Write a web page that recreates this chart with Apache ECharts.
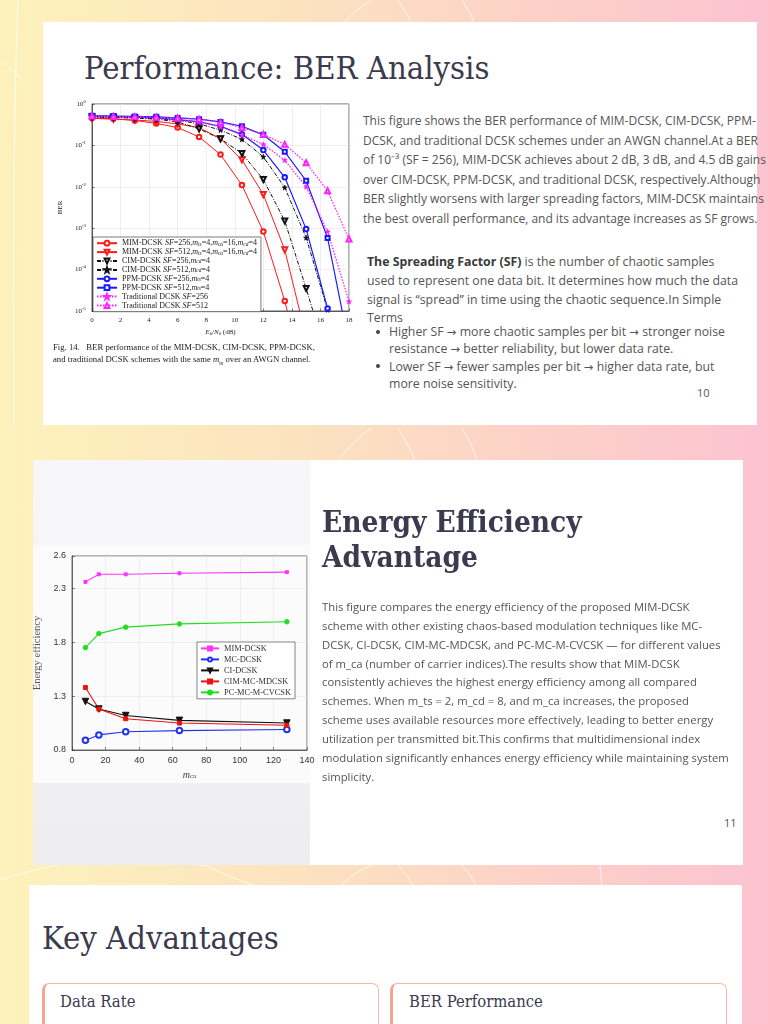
<!DOCTYPE html>
<html><head><meta charset="utf-8">
<script src="https://cdn.jsdelivr.net/npm/echarts@6.0.0/dist/echarts.min.js"></script>
<style>
html,body{margin:0;padding:0;width:768px;height:1024px;overflow:hidden;}
body{position:relative;background:linear-gradient(90deg,#fdf2bb 0%,#fce2c0 40%,#fcd1c8 70%,#fcc3d0 100%);font-family:"Open Sans",sans-serif;}
.card{position:absolute;background:#fff;}
.h{position:absolute;font-family:"DejaVu Serif",serif;font-stretch:condensed;color:#3b3a4e;white-space:nowrap;}
.t{position:absolute;white-space:nowrap;color:#555;}
.l{position:absolute;white-space:nowrap;color:#555;font-size:12.3px;line-height:13px;}
.a{font-family:"DejaVu Sans",sans-serif;font-size:11.5px;}
.dot{position:absolute;width:4px;height:4px;border-radius:50%;background:#444;}
.pn{position:absolute;font-size:11px;color:#555;}
.sub{position:absolute;background:#fff;border:1px solid #f1b9aa;border-left:3px solid #f6a58d;border-radius:7px;height:90px;}
svg.bg{position:absolute;left:0;top:0;}
</style></head>
<body>
<svg class="bg" width="768" height="1024" fill="none" stroke="rgba(255,255,255,0.75)" stroke-width="1">
  <path d="M338,32 Q352,10 372,0"/><path d="M398,0 Q408,14 416,32"/><path d="M462,0 Q472,14 478,32"/>
  <path d="M0,60 Q12,70 28,84"/><path d="M18,0 Q12,150 14,425"/>
  <path d="M338,462 Q352,440 372,428"/><path d="M398,428 Q408,444 416,462"/><path d="M462,428 Q472,444 478,462"/>
  <path d="M0,880 Q60,860 120,858 Q170,860 205,866"/><path d="M205,865 Q230,878 262,888"/><path d="M600,865 L602,888"/>
  <path d="M338,890 Q352,872 372,865"/><path d="M398,865 Q408,876 416,890"/><path d="M462,865 Q472,876 478,890"/>
</svg>

<!-- Card 1 -->
<div class="card" style="left:43px;top:22px;width:714px;height:403px;"></div>
<div class="h" style="left:84px;top:47px;font-size:32.5px;line-height:42px;">Performance: BER Analysis</div>
<div id="ber" style="position:absolute;left:45px;top:92px;width:312px;height:250px;background:#fff;"></div>
<div class="t" style="left:53px;top:341px;font-family:'Liberation Serif',serif;font-size:8.7px;line-height:12px;color:#222;">Fig. 14.&nbsp;&nbsp;&nbsp;BER performance of the MIM-DCSK, CIM-DCSK, PPM-DCSK,<br>and traditional DCSK schemes with the same <i>m</i><sub style="font-size:6px">ts</sub> over an AWGN channel.</div>
<div class="t" style="left:363px;top:111px;font-size:12px;line-height:19.5px;">This figure shows the BER performance of MIM-DCSK, CIM-DCSK, PPM-<br>DCSK, and traditional DCSK schemes under an AWGN channel.At a BER<br>of 10⁻³ (SF = 256), MIM-DCSK achieves about 2 dB, 3 dB, and 4.5 dB gains<br>over CIM-DCSK, PPM-DCSK, and traditional DCSK, respectively.Although<br>BER slightly worsens with larger spreading factors, MIM-DCSK maintains<br>the best overall performance, and its advantage increases as SF grows.</div>
<div class="l" style="left:367px;top:254.5px;"><b style="color:#3a3a3a">The Spreading Factor (SF)</b> is the number of chaotic samples</div>
<div class="l" style="left:367px;top:273.5px;">used to represent one data bit. It determines how much the data</div>
<div class="l" style="left:367px;top:292.5px;">signal is “spread” in time using the chaotic sequence.In Simple</div>
<div class="l" style="left:367px;top:311px;">Terms</div>
<div class="dot" style="left:376px;top:329.5px;"></div>
<div class="l" style="left:389px;top:325px;">Higher SF <span class="a">→</span> more chaotic samples per bit <span class="a">→</span> stronger noise</div>
<div class="l" style="left:389px;top:342px;">resistance <span class="a">→</span> better reliability, but lower data rate.</div>
<div class="dot" style="left:376px;top:364px;"></div>
<div class="l" style="left:389px;top:359.5px;">Lower SF <span class="a">→</span> fewer samples per bit <span class="a">→</span> higher data rate, but</div>
<div class="l" style="left:389px;top:377px;">more noise sensitivity.</div>
<div class="pn" style="left:697px;top:385px;">10</div>

<!-- Card 2 -->
<div class="card" style="left:33px;top:460px;width:710px;height:405px;"></div>
<div style="position:absolute;left:33px;top:460px;width:277px;height:405px;background:linear-gradient(180deg,#f7f6f9 0%,#f2f1f4 60%,#edecef 100%);"></div>
<div style="position:absolute;left:33px;top:545px;width:277px;height:238px;background:#fbfbfc;"></div>
<div id="ee" style="position:absolute;left:33px;top:545px;width:292px;height:238px;"></div>
<div class="h" style="left:322px;top:504px;font-size:29.5px;line-height:35px;font-weight:bold;">Energy Efficiency<br>Advantage</div>
<div class="t" style="left:322px;top:598px;font-size:11.3px;line-height:18.85px;">This figure compares the energy efficiency of the proposed MIM-DCSK<br>scheme with other existing chaos-based modulation techniques like MC-<br>DCSK, CI-DCSK, CIM-MC-MDCSK, and PC-MC-M-CVCSK — for different values<br>of m_ca (number of carrier indices).The results show that MIM-DCSK<br>consistently achieves the highest energy efficiency among all compared<br>schemes. When m_ts = 2, m_cd = 8, and m_ca increases, the proposed<br>scheme uses available resources more effectively, leading to better energy<br>utilization per transmitted bit.This confirms that multidimensional index<br>modulation significantly enhances energy efficiency while maintaining system<br>simplicity.</div>
<div class="pn" style="left:724px;top:815px;">11</div>

<!-- Card 3 -->
<div class="card" style="left:29px;top:885px;width:713px;height:200px;"></div>
<div class="h" style="left:42px;top:917px;font-size:32.5px;line-height:42px;">Key Advantages</div>
<div class="sub" style="left:42px;top:983px;width:333px;"></div>
<div class="sub" style="left:390px;top:983px;width:333px;"></div>
<div class="h" style="left:60px;top:992px;font-size:16.5px;line-height:20px;">Data Rate</div>
<div class="h" style="left:409px;top:992px;font-size:16.5px;line-height:20px;">BER Performance</div>

<script>
// ---------- Data: BER chart ----------
const ebn0 = [0, 1.5, 3, 4.5, 6, 7.5, 9, 10.5, 12, 13.5, 15, 16.5, 18];
const berNames = ['MIM-DCSK SF=256', 'MIM-DCSK SF=512', 'CIM-DCSK SF=256', 'CIM-DCSK SF=512',
                  'PPM-DCSK SF=256', 'PPM-DCSK SF=512', 'Traditional DCSK SF=256', 'Traditional DCSK SF=512'];
const berMim256 = [0.46, 0.44, 0.40, 0.34, 0.27, 0.16, 0.06, 0.011, 8.3e-4, 1.75e-5, 1.6e-7];
const berMim512 = [0.45, 0.43, 0.41, 0.38, 0.33, 0.27, 0.145, 0.045, 0.0065, 3.0e-4, 2.3e-6];
const berCim256 = [0.49, 0.48, 0.46, 0.43, 0.37, 0.25, 0.145, 0.064, 0.015, 0.0015, 3.5e-5, 6.8e-7];
const berCim512 = [0.47, 0.47, 0.46, 0.44, 0.41, 0.33, 0.235, 0.14, 0.053, 0.0096, 5.9e-4, 1.07e-5, 1e-7];
const berPpm256 = [0.51, 0.50, 0.48, 0.46, 0.42, 0.37, 0.29, 0.185, 0.077, 0.017, 9.5e-4, 1.15e-5, 1e-7];
const berPpm512 = [0.52, 0.51, 0.50, 0.49, 0.46, 0.43, 0.37, 0.29, 0.18, 0.07, 0.014, 5.8e-4, 1.5e-6];
const berTrad256 = [0.49, 0.48, 0.48, 0.46, 0.43, 0.37, 0.28, 0.18, 0.106, 0.044, 0.01, 8.3e-4, 1.7e-5];
const berTrad512 = [0.51, 0.50, 0.49, 0.48, 0.46, 0.43, 0.36, 0.27, 0.185, 0.106, 0.038, 0.008, 5.5e-4];
const berXTicks = [0, 2, 4, 6, 8, 10, 12, 14, 16, 18];

// ---------- Data: Energy efficiency chart ----------
const mca = [8, 16, 32, 64, 128];
const eeNames = ['MIM-DCSK', 'MC-DCSK', 'CI-DCSK', 'CIM-MC-MDCSK', 'PC-MC-M-CVCSK'];
const eeMim = [2.36, 2.43, 2.43, 2.44, 2.45];
const eeMc = [0.89, 0.94, 0.97, 0.98, 0.99];
const eeCi = [1.25, 1.18, 1.12, 1.075, 1.05];
const eeCim = [1.38, 1.18, 1.09, 1.05, 1.03];
const eePc = [1.75, 1.88, 1.94, 1.97, 1.99];
const eeYTicks = [0.8, 1.3, 1.8, 2.3, 2.6];

const serif = "'Liberation Serif','Times New Roman',serif";
const sans = "'Liberation Sans',Arial,sans-serif";
const STAR = 'path://M50,0 L61,35 L98,35 L68,57 L79,91 L50,70 L21,91 L32,57 L2,35 L39,35 Z';

function berSeries(name, vals, color, symbol, opts) {
  opts = opts || {};
  return {
    name: name, type: 'line', clip: true,
    data: vals.map((v, i) => [ebn0[i], v]),
    symbol: symbol, symbolSize: opts.size || 4.5, symbolRotate: opts.rot || 0,
    showSymbol: true,
    lineStyle: { color: color, width: opts.w || 1, type: opts.dash || 'solid' },
    itemStyle: { color: color, borderColor: color, borderWidth: 0.8 },
    emphasis: { disabled: true }, animation: false
  };
}

const legendLabels = {
  'MIM-DCSK SF=256': 'MIM-DCSK {i|SF}=256,{i|m}{u|ts}=4,{i|m}{u|ca}=16,{i|m}{u|cd}=4',
  'MIM-DCSK SF=512': 'MIM-DCSK {i|SF}=512,{i|m}{u|ts}=4,{i|m}{u|ca}=16,{i|m}{u|cd}=4',
  'CIM-DCSK SF=256': 'CIM-DCSK {i|SF}=256,{i|m}{u|cd}=4',
  'CIM-DCSK SF=512': 'CIM-DCSK {i|SF}=512,{i|m}{u|cd}=4',
  'PPM-DCSK SF=256': 'PPM-DCSK {i|SF}=256,{i|m}{u|ts}=4',
  'PPM-DCSK SF=512': 'PPM-DCSK {i|SF}=512,{i|m}{u|ts}=4',
  'Traditional DCSK SF=256': 'Traditional DCSK {i|SF}=256',
  'Traditional DCSK SF=512': 'Traditional DCSK {i|SF}=512'
};

const LF = 8;
const chart1 = echarts.init(document.getElementById('ber'));
chart1.setOption({
  animation: false,
  backgroundColor: '#fff',
  grid: { left: 47, top: 12, width: 257, height: 207, show: true, borderColor: '#222', borderWidth: 0.7, outerBoundsMode: 'none', containLabel: false },
  xAxis: {
    type: 'value', min: 0, max: 18, interval: 2,
    axisLine: { show: true, onZero: false, lineStyle: { color: '#222', width: 0.7 } },
    axisTick: { show: true, inside: true, length: 2.5, lineStyle: { color: '#222', width: 0.6 } },
    splitLine: { show: true, lineStyle: { color: '#e2e2e2', width: 0.6, type: 'solid' } },
    axisLabel: { fontSize: 7, fontFamily: serif, color: '#222', margin: 6,
      formatter: v => berXTicks.indexOf(v) >= 0 ? String(v) : '' },
    name: '{i|E}{u|b}/{i|N}{u|0} (dB)', nameLocation: 'middle', nameGap: 15,
    nameTextStyle: { fontSize: 7, fontFamily: serif, color: '#222',
      rich: { i: { fontSize: 7, fontStyle: 'italic', fontFamily: serif, color: '#222' },
              u: { fontSize: 4.8, fontFamily: serif, color: '#222', padding: [3, 0, 0, 0] } } }
  },
  yAxis: {
    type: 'log', logBase: 10, min: 1e-5, max: 1,
    axisLine: { show: true, lineStyle: { color: '#222', width: 0.7 } },
    axisTick: { show: true, inside: true, length: 2.5, lineStyle: { color: '#222', width: 0.6 } },
    splitLine: { show: true, lineStyle: { color: '#e2e2e2', width: 0.6, type: 'solid' } },
    axisLabel: { color: '#222', margin: 6,
      formatter: v => '{b|10}{s|' + Math.round(Math.log10(v)) + '}',
      rich: { b: { fontSize: 7, fontFamily: serif, color: '#222' },
              s: { fontSize: 4.8, fontFamily: serif, color: '#222', padding: [0, 0, 5, 0] } } },
    name: 'BER', nameLocation: 'middle', nameGap: 17, nameRotate: 90,
    nameTextStyle: { fontSize: 7, fontFamily: serif, color: '#222' }
  },
  legend: {
    orient: 'vertical', left: 48, top: 145, itemWidth: 20, itemHeight: 6, itemGap: 0.5,
    padding: [2, 4, 2, 3], borderColor: '#222', borderWidth: 0.6, backgroundColor: '#fff', borderRadius: 0,
    data: berNames, selectedMode: false,
    formatter: n => legendLabels[n],
    textStyle: { fontSize: LF, fontFamily: serif, color: '#222', lineHeight: 8.4,
      rich: { i: { fontSize: LF, fontStyle: 'italic', fontFamily: serif, color: '#222' },
              u: { fontSize: 5.4, fontStyle: 'italic', fontFamily: serif, color: '#222', padding: [2, 0, 0, 0] } } }
  },
  series: [
    berSeries(berNames[0], berMim256, '#ff1a1a', 'emptyCircle'),
    berSeries(berNames[1], berMim512, '#ff1a1a', 'emptyTriangle', { rot: 180, size: 5 }),
    berSeries(berNames[2], berCim256, '#111', 'emptyTriangle', { rot: 180, size: 5, dash: [4, 1.5, 1, 1.5] }),
    berSeries(berNames[3], berCim512, '#111', STAR, { size: 5, dash: [4, 1.5, 1, 1.5] }),
    berSeries(berNames[4], berPpm256, '#1a1aff', 'emptyCircle', { w: 1.2 }),
    berSeries(berNames[5], berPpm512, '#1a1aff', 'emptyRect', { w: 1.2, size: 4 }),
    berSeries(berNames[6], berTrad256, '#ff22ff', STAR, { dash: [1.5, 1.5], w: 1.3, size: 5 }),
    berSeries(berNames[7], berTrad512, '#ff22ff', 'emptyTriangle', { dash: [1.5, 1.5], w: 1.3, size: 5 })
  ]
});

// ---------- Energy efficiency chart ----------
function eeSeries(name, vals, color, symbol, size, rot) {
  return {
    name: name, type: 'line', data: vals.map((v, i) => [mca[i], v]),
    symbol: symbol, symbolSize: size, symbolRotate: rot || 0, showSymbol: true,
    lineStyle: { color: color, width: 1.1 },
    itemStyle: { color: color, borderColor: color, borderWidth: 1 },
    emphasis: { disabled: true }, animation: false
  };
}
const chart2 = echarts.init(document.getElementById('ee'));
chart2.setOption({
  animation: false,
  backgroundColor: 'transparent',
  grid: { left: 39, top: 11, width: 235, height: 194, show: true, borderColor: '#333', borderWidth: 0.7, outerBoundsMode: 'none', containLabel: false },
  xAxis: {
    type: 'value', min: 0, max: 140, interval: 20,
    axisLine: { show: true, onZero: false, lineStyle: { color: '#333', width: 0.7 } },
    axisTick: { show: true, inside: true, length: 3, lineStyle: { color: '#333', width: 0.6 } },
    splitLine: { show: true, lineStyle: { color: '#e6e6e6', width: 0.6, type: 'solid' } },
    axisLabel: { fontSize: 9, fontFamily: sans, color: '#333', margin: 6 },
    name: '{i|m}{u|ca}', nameLocation: 'middle', nameGap: 18,
    nameTextStyle: { rich: { i: { fontSize: 10, fontStyle: 'italic', fontFamily: serif, color: '#444' },
                             u: { fontSize: 7, fontFamily: serif, color: '#444', padding: [3, 0, 0, 0] } } }
  },
  yAxis: {
    type: 'value', min: 0.8, max: 2.6, interval: 0.5,
    axisLine: { show: true, lineStyle: { color: '#333', width: 0.7 } },
    axisTick: { show: true, inside: true, length: 3, lineStyle: { color: '#333', width: 0.6 } },
    splitLine: { show: true, lineStyle: { color: '#e6e6e6', width: 0.6, type: 'solid' } },
    axisLabel: { fontSize: 9, fontFamily: sans, color: '#333', margin: 6,
      formatter: v => { const t = eeYTicks.find(k => Math.abs(k - v) < 1e-6); return t !== undefined ? t.toFixed(1) : ''; } },
    name: 'Energy efficiency', nameLocation: 'middle', nameGap: 16, nameRotate: 90,
    nameTextStyle: { fontSize: 10.5, fontFamily: serif, color: '#555' }
  },
  legend: {
    orient: 'vertical', left: 164, top: 97, itemWidth: 18, itemHeight: 5, itemGap: 2.2,
    padding: [2, 4, 2, 3], borderColor: '#333', borderWidth: 0.6, backgroundColor: '#fff', borderRadius: 0,
    data: eeNames, selectedMode: false,
    textStyle: { fontSize: 8.4, fontFamily: serif, color: '#333', lineHeight: 8.8 }
  },
  series: [
    eeSeries(eeNames[0], eeMim, '#ff33ff', 'rect', 3),
    eeSeries(eeNames[1], eeMc, '#2233ee', 'emptyCircle', 5.5),
    eeSeries(eeNames[2], eeCi, '#111', 'triangle', 6.5, 180),
    eeSeries(eeNames[3], eeCim, '#ee1111', 'rect', 4),
    eeSeries(eeNames[4], eePc, '#22dd22', 'circle', 4.5)
  ]
});
</script>
</body></html>
